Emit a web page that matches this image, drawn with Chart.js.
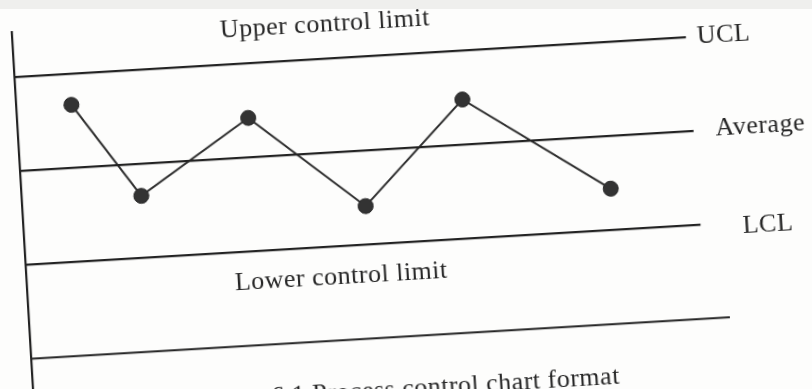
<!DOCTYPE html>
<html>
<head>
<meta charset="utf-8">
<title>Process control chart format</title>
<script src="https://cdn.jsdelivr.net/npm/chart.js@4.4.1/dist/chart.umd.min.js"></script>
<style>
  html, body { margin: 0; padding: 0; background: #fdfdfc; overflow: hidden; }
  body { width: 812px; height: 389px; position: relative; }
  .edge { position: absolute; left: 0; top: 0; width: 812px; height: 9px; background: #efefed; }
  .sheet {
    position: absolute; left: 0; top: 0; width: 812px; height: 420px;
    transform-origin: 406px 194px; transform: rotate(-3.4deg);
  }
</style>
</head>
<body>
<div class="edge"></div>
<div class="sheet"><canvas id="controlChart" width="812" height="420"></canvas></div>
<script>
// sample positions along the run and the value measured at each
const sampleX = [7.9, 17.1, 33, 49, 63.7, 84.1];
const sampleY = [2.67, 1.66, 2.42, 1.41, 2.48, 1.44];

// control lines and where each one stops
const limitNames = ['UCL', 'Average', 'LCL'];
const limitValues = [3, 2, 1];
const limitEnds = [96.1, 96.4, 96.6];

// base line of the chart
const baseValue = 0;
const baseEnd = 100;

const bandTitles = ['Upper control limit', 'Lower control limit'];
const caption = '6.1 Process control chart format';

const ink = '#232323';
const serif = '26px "Liberation Serif", "Times New Roman", serif';

// text drawn next to the lines
const chartText = {
  id: 'chartText',
  afterDatasetsDraw(chart) {
    const { ctx, scales: { x, y } } = chart;
    ctx.save();
    ctx.fillStyle = '#262626';
    ctx.font = serif;
    ctx.letterSpacing = '0.5px';
    ctx.textBaseline = 'alphabetic';

    // line names, a little past the end of each line
    const gaps = [11, 22, 42];
    const drops = [7, 6, 11];
    limitNames.forEach(function(name, i) {
      ctx.fillText(name, x.getPixelForValue(limitEnds[i]) + gaps[i], y.getPixelForValue(limitValues[i]) + drops[i]);
    });

    // band titles above UCL and below LCL
    ctx.fillText(bandTitles[0], x.getPixelForValue(29.7), y.getPixelForValue(3.29));
    ctx.fillText(bandTitles[1], x.getPixelForValue(29.7), y.getPixelForValue(0.6));

    // figure caption under the base line
    ctx.textAlign = 'right';
    ctx.fillText(caption, x.getPixelForValue(83.8), y.getPixelForValue(-0.64));
    ctx.restore();
  }
};

const datasets = limitNames.map(function(name, i) {
  return {
    label: name,
    data: [{ x: 0, y: limitValues[i] }, { x: limitEnds[i], y: limitValues[i] }],
    showLine: true,
    borderColor: ink,
    borderWidth: 2.2,
    pointRadius: 0
  };
});

datasets.push({
  label: 'Base',
  data: [{ x: 0, y: baseValue }, { x: baseEnd, y: baseValue }],
  showLine: true,
  borderColor: ink,
  borderWidth: 2.2,
  pointRadius: 0
});

datasets.push({
  label: 'Samples',
  data: sampleX.map(function(v, i) { return { x: v, y: sampleY[i] }; }),
  showLine: true,
  borderColor: '#2e2e2e',
  borderWidth: 2,
  pointRadius: 7.5,
  pointBackgroundColor: '#333',
  pointBorderColor: '#2a2a2a',
  pointBorderWidth: 1
});

new Chart(document.getElementById('controlChart').getContext('2d'), {
  type: 'scatter',
  data: { datasets: datasets },
  options: {
    responsive: false,
    animation: false,
    devicePixelRatio: 1,
    layout: { padding: { left: 21, right: 90, top: 9, bottom: 48 } },
    plugins: {
      legend: { display: false },
      tooltip: { enabled: false }
    },
    scales: {
      x: { type: 'linear', min: 0, max: 100, display: false },
      y: {
        min: -0.38,
        max: 3.48,
        grid: { display: false, drawTicks: false },
        ticks: { display: false },
        border: { display: true, color: ink, width: 2.2 },
        afterFit: function(scale) { scale.width = 1; }
      }
    }
  },
  plugins: [chartText]
});
</script>
</body>
</html>
